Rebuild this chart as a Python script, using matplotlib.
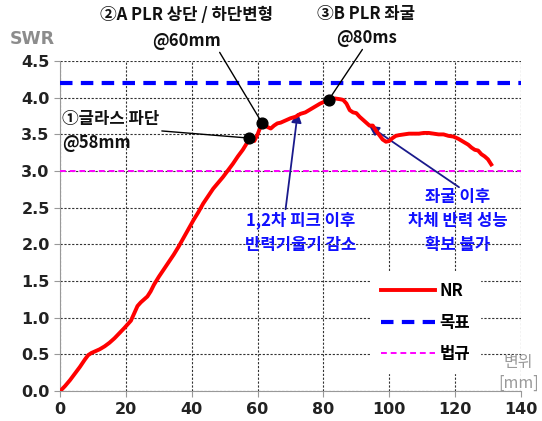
import matplotlib
matplotlib.use('Agg')
import matplotlib.pyplot as plt
import numpy as np

plt.rcParams['font.family'] = ['Noto Sans CJK KR', 'DejaVu Sans']

# 변위 [mm] / SWR 데이터
disp = [0, 1.5, 3, 4.5, 6, 7.5, 8.5, 9.5, 10.5, 12, 13.5, 15, 16.5, 18, 19.5, 20.5,
        21.5, 22.5, 23.5, 24.5, 25.5, 26.5, 27.5, 28.5, 30, 31.5, 33, 34.5, 36, 37.5,
        39, 40.5, 42, 43.5, 45, 46.5, 48, 49.5, 51, 52.5, 54, 55.5, 57, 58, 59, 60,
        61, 62, 63, 64, 65, 66, 67, 68, 69, 70, 71.5, 73, 74.5, 76, 77.5, 79, 80.5,
        82, 83.5, 85, 86, 87, 88, 89, 90, 91, 92, 93, 94, 95, 96, 97, 98, 99, 100,
        101, 102, 103, 104.5, 106, 107.5, 109, 110.5, 112, 113.5, 115, 116.5, 118,
        119.5, 121, 122.5, 124, 125, 126, 127, 128, 129, 130, 131]
swr = [0, 0.07, 0.15, 0.24, 0.33, 0.43, 0.49, 0.52, 0.54, 0.57, 0.61, 0.66, 0.72,
       0.79, 0.86, 0.91, 0.96, 1.06, 1.16, 1.21, 1.25, 1.29, 1.36, 1.45, 1.56, 1.66,
       1.76, 1.86, 1.97, 2.09, 2.21, 2.33, 2.44, 2.56, 2.66, 2.76, 2.84, 2.92, 3.01,
       3.10, 3.20, 3.29, 3.40, 3.45, 3.41, 3.50, 3.62, 3.64, 3.60, 3.58, 3.62, 3.65,
       3.66, 3.68, 3.70, 3.72, 3.74, 3.78, 3.80, 3.84, 3.88, 3.92, 3.95, 3.97, 3.99,
       3.98, 3.97, 3.92, 3.83, 3.80, 3.79, 3.74, 3.70, 3.66, 3.62, 3.62, 3.55, 3.49,
       3.43, 3.40, 3.41, 3.45, 3.48, 3.49, 3.50, 3.51, 3.51, 3.51, 3.52, 3.52, 3.51,
       3.50, 3.50, 3.48, 3.47, 3.44, 3.40, 3.36, 3.32, 3.29, 3.28, 3.23, 3.20, 3.16,
       3.09]

target = 4.2   # 목표
law = 3.0      # 법규

# 이벤트 점
event_x = [57.3, 61.3, 81.6]
event_y = [3.45, 3.66, 3.97]
event_labels = ['①글라스 파단\n@58mm', '②A PLR 상단 / 하단변형\n@60mm', '③B PLR 좌굴\n@80ms']

fig = plt.figure(figsize=(5.42, 4.21), dpi=100)
ax = fig.add_axes([0.111, 0.071, 0.850, 0.784])

ax.plot(disp, swr, color='#ff0000', lw=2.8, label='NR', zorder=4)
ax.axhline(target, color='#0000ff', lw=3, ls=(0, (3, 2)), label='목표', zorder=3)
ax.axhline(law, color='#ff00ff', lw=1.4, ls=(0, (3, 2)), label='법규', zorder=3)

ax.set_xlim(0, 140)
ax.set_ylim(0, 4.5)
ax.set_xticks(np.arange(0, 141, 20))
ax.set_yticks(np.arange(0, 4.51, 0.5))
ax.set_yticklabels([f'{v:.1f}' for v in np.arange(0, 4.51, 0.5)])
ax.grid(True, color='#333333', ls=(0, (2, 1.5)), lw=0.8)
for s in ['top', 'right']:
    ax.spines[s].set_visible(False)
for s in ['left', 'bottom']:
    ax.spines[s].set_color('#999999')
ax.tick_params(colors='#999999', labelcolor='#222222', labelsize=11.5, length=4)
for t in ax.get_xticklabels() + ax.get_yticklabels():
    t.set_fontweight('bold')
    t.set_family('DejaVu Sans')

# 이벤트 점과 주석
ax.scatter(event_x, event_y, s=60, color='black', zorder=6)
ax.annotate(event_labels[0], xy=(event_x[0], event_y[0]), xytext=(0.5, 3.55),
            fontsize=12, fontweight='bold', ha='left', va='center', color='#111111',
            linespacing=1.45,
            arrowprops=dict(arrowstyle='-', color='black', lw=1, shrinkA=0, shrinkB=0,
                            relpos=(1.0, 0.5)), annotation_clip=False)
ax.annotate(event_labels[1], xy=(event_x[1], event_y[1]), xytext=(38.5, 4.95),
            fontsize=12, fontweight='bold', ha='center', va='center', color='#111111',
            linespacing=1.5,
            arrowprops=dict(arrowstyle='-', color='black', lw=1, shrinkA=0, shrinkB=0,
                            relpos=(0.68, 0.0)), annotation_clip=False)
ax.annotate(event_labels[2], xy=(event_x[2], event_y[2]), xytext=(93, 4.98),
            fontsize=12, fontweight='bold', ha='center', va='center', color='#111111',
            linespacing=1.4,
            arrowprops=dict(arrowstyle='-', color='black', lw=1, shrinkA=0, shrinkB=0,
                            relpos=(0.48, 0.0)), annotation_clip=False)

# 파란 설명
ax.annotate('', xy=(72.2, 3.80), xytext=(68.5, 2.48),
            arrowprops=dict(arrowstyle='-|>', color='#1a1a8c', lw=1.3, mutation_scale=15,
                            shrinkA=0, shrinkB=0))
ax.text(73, 2.16, '1,2차 피크 이후\n반력기울기 감소', color='#1010ff', fontsize=12,
        fontweight='bold', ha='center', va='center', linespacing=1.45)
ax.annotate('', xy=(93.8, 3.62), xytext=(121.2, 2.78),
            arrowprops=dict(arrowstyle='-|>', color='#1a1a8c', lw=1.3, mutation_scale=15,
                            shrinkA=0, shrinkB=0))
ax.text(120.8, 2.32, '좌굴 이후\n차체 반력 성능\n확보 불가', color='#1010ff', fontsize=12,
        fontweight='bold', ha='center', va='center', linespacing=1.45)

leg = ax.legend(loc='lower right', bbox_to_anchor=(0.93, 0.03), frameon=True,
                fontsize=12, handlelength=3.2, labelspacing=0.8, borderpad=0.6,
                handletextpad=0.3)
leg.get_frame().set_edgecolor('white')
leg.get_frame().set_facecolor('white')
leg.get_frame().set_alpha(1)
for t in leg.get_texts():
    t.set_fontweight('bold')

fig.text(0.018, 0.908, 'SWR', color='#8c8c8c', fontsize=12.5, fontweight='bold',
         family='DejaVu Sans', ha='left', va='center')
fig.text(0.957, 0.115, '변위\n[mm]', color='#9a9a9a', fontsize=11.5,
         ha='center', va='center', linespacing=1.3)

fig.savefig('out.png', dpi=100)
